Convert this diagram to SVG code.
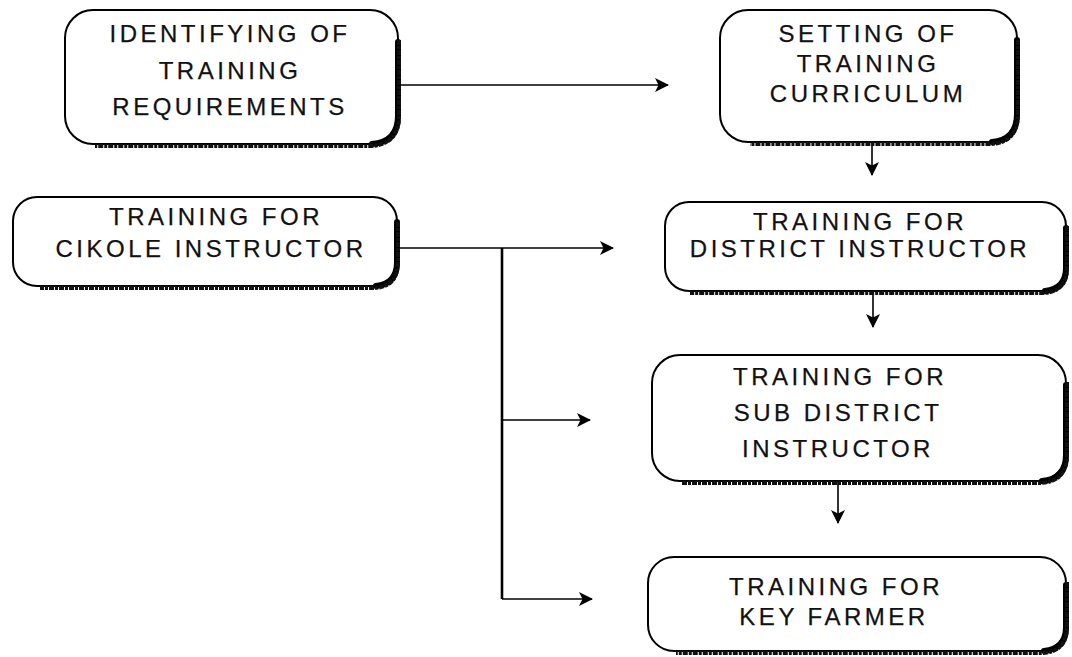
<svg xmlns="http://www.w3.org/2000/svg" width="1072" height="657" viewBox="0 0 1072 657">
  <defs>
    <marker id="arrow" viewBox="0 0 14 14" refX="13" refY="7" markerWidth="14" markerHeight="14" markerUnits="userSpaceOnUse" orient="auto">
      <path d="M0,0 L14,7 L0,14 L3.5,7 Z" fill="#000"/>
    </marker>
    <style>
      .box { fill: #fff; stroke: #000; stroke-width: 2; }
      .shadow { fill: none; stroke: #111; stroke-width: 4; stroke-dasharray: 5 1 3 1; }
      .edge { fill: none; stroke: #000; stroke-width: 6; stroke-linecap: round; }
      .label { font-family: "Liberation Sans", Arial, sans-serif; font-size: 24px; letter-spacing: 3.5px; fill: #111; stroke: #111; stroke-width: 0.25; text-anchor: middle; }
      .conn { fill: none; stroke: #000; stroke-width: 1.6; }
      .arrow { marker-end: url(#arrow); }
    </style>
  </defs>

  <!-- connectors -->
  <g id="connectors">
    <line class="conn arrow" x1="400" y1="85" x2="668" y2="85"/>
    <line class="conn arrow" x1="872" y1="143" x2="872" y2="175"/>
    <line class="conn arrow" x1="400" y1="248" x2="613" y2="248"/>
    <polyline class="conn" points="502,248 502,599" style="stroke-width:2.6"/>
    <line class="conn arrow" x1="502" y1="420" x2="590" y2="420"/>
    <line class="conn arrow" x1="502" y1="599" x2="592" y2="599"/>
    <line class="conn arrow" x1="873" y1="292" x2="873" y2="327"/>
    <line class="conn arrow" x1="838" y1="482" x2="838" y2="523"/>
  </g>

  <!-- Identifying of training requirements -->
  <g id="identifying">
    <rect class="box" x="65" y="10" width="333" height="134" rx="28"/>
    <path class="edge" d="M398,42 V116 Q398,142 372,144"/>
    <path class="shadow" d="M399,40 V116 Q399,145 370,146 H95"/>
    <text class="label" x="230" y="42">IDENTIFYING OF</text>
    <text class="label" x="230" y="79">TRAINING</text>
    <text class="label" x="230" y="115">REQUIREMENTS</text>
  </g>

  <!-- Setting of training curriculum -->
  <g id="setting">
    <rect class="box" x="720" y="10" width="297" height="132" rx="28"/>
    <path class="edge" d="M1017,40 V114 Q1017,140 992,142"/>
    <path class="shadow" d="M1018,40 V114 Q1018,143 990,144 H750"/>
    <text class="label" x="868" y="42">SETTING OF</text>
    <text class="label" x="868" y="72">TRAINING</text>
    <text class="label" x="868" y="102">CURRICULUM</text>
  </g>

  <!-- Training for Cikole instructor -->
  <g id="cikole">
    <rect class="box" x="13" y="197" width="384" height="89" rx="24"/>
    <path class="edge" d="M397,222 V262 Q397,284 376,286"/>
    <path class="shadow" d="M398,222 V262 Q398,287 374,288 H40"/>
    <text class="label" x="216" y="225">TRAINING FOR</text>
    <text class="label" x="211" y="257">CIKOLE INSTRUCTOR</text>
  </g>

  <!-- Training for district instructor -->
  <g id="district">
    <rect class="box" x="665" y="202" width="401" height="89" rx="24"/>
    <path class="edge" d="M1066,228 V268 Q1066,289 1045,291"/>
    <path class="shadow" d="M1067,226 V268 Q1067,292 1043,293 H690"/>
    <text class="label" x="860" y="230">TRAINING FOR</text>
    <text class="label" x="860" y="257">DISTRICT INSTRUCTOR</text>
  </g>

  <!-- Training for sub district instructor -->
  <g id="subdistrict">
    <rect class="box" x="652" y="355" width="414" height="126" rx="28"/>
    <path class="edge" d="M1066,385 V455 Q1066,479 1042,481"/>
    <path class="shadow" d="M1067,382 V455 Q1067,482 1040,483 H682"/>
    <text class="label" x="840" y="385">TRAINING FOR</text>
    <text class="label" x="838" y="421">SUB DISTRICT</text>
    <text class="label" x="838" y="457">INSTRUCTOR</text>
  </g>

  <!-- Training for key farmer -->
  <g id="keyfarmer">
    <rect class="box" x="648" y="557" width="418" height="94" rx="26"/>
    <path class="edge" d="M1066,585 V627 Q1066,649 1044,651"/>
    <path class="shadow" d="M1067,582 V627 Q1067,652 1042,653 H676"/>
    <text class="label" x="836" y="595">TRAINING FOR</text>
    <text class="label" x="834" y="625">KEY FARMER</text>
  </g>
</svg>
